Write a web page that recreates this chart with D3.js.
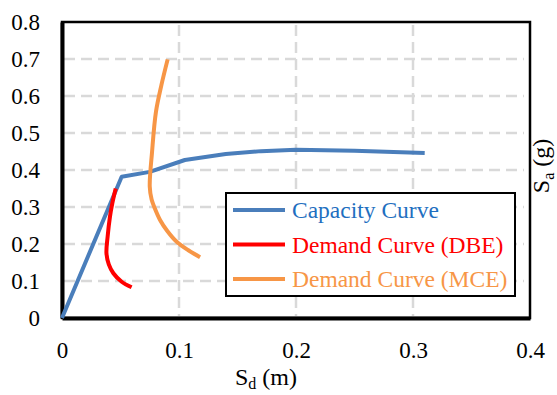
<!DOCTYPE html>
<html>
<head>
<meta charset="utf-8">
<script src="https://cdn.jsdelivr.net/npm/d3@7"></script>
<style>
  body { margin: 0; background: #fff; }
  svg text { font-family: "Liberation Serif", "Times New Roman", serif; }
</style>
</head>
<body>
<div id="chart"></div>
<script>
// data (Sd in m, Sa in g)
var capacitySd = [0, 0.051, 0.075, 0.105, 0.14, 0.17, 0.2, 0.25, 0.31];
var capacitySa = [0, 0.382, 0.395, 0.427, 0.443, 0.451, 0.455, 0.452, 0.446];

var dbeSd = [0.0459, 0.043, 0.041, 0.039, 0.038, 0.040, 0.0439, 0.051, 0.0595];
var dbeSa = [0.350, 0.31, 0.274, 0.22, 0.175, 0.145, 0.121, 0.098, 0.083];

var mceSd = [0.0903, 0.085, 0.0803, 0.077, 0.075, 0.0766, 0.0795, 0.0838, 0.090, 0.098, 0.108, 0.118];
var mceSa = [0.699, 0.63, 0.557, 0.45, 0.355, 0.32, 0.295, 0.265, 0.235, 0.206, 0.183, 0.164];

var xTicks = [0, 0.1, 0.2, 0.3, 0.4];
var yTicks = [0, 0.1, 0.2, 0.3, 0.4, 0.5, 0.6, 0.7, 0.8];

var seriesNames = ["Capacity Curve", "Demand Curve (DBE)", "Demand Curve (MCE)"];
var seriesColors = ["#4a7ebb", "#ff0000", "#f79646"];
var labelColors = ["#1f6fc0", "#ff0000", "#f79646"];

var W = 557, H = 395;
var margin = {top: 22, right: 27, bottom: 77, left: 62};
var width = W - margin.left - margin.right;
var height = H - margin.top - margin.bottom;

var svg = d3.select("#chart").append("svg")
    .attr("width", W)
    .attr("height", H);

var g = svg.append("g")
    .attr("transform", "translate(" + margin.left + "," + margin.top + ")");

var xScale = d3.scaleLinear().domain([0, 0.4]).range([0, width]);
var yScale = d3.scaleLinear().domain([0, 0.8]).range([height, 0]);

// gridlines
g.selectAll("line.hgrid")
  .data(yTicks.filter(function(d) { return d > 0 && d < 0.8; }))
  .enter().append("line")
  .attr("class", "hgrid")
  .attr("x1", 2).attr("x2", width - 6)
  .attr("y1", function(d) { return yScale(d); })
  .attr("y2", function(d) { return yScale(d); })
  .attr("stroke", "#d9d9d9")
  .attr("stroke-width", 2.5)
  .attr("stroke-dasharray", "11,6");

g.selectAll("line.vgrid")
  .data(xTicks.filter(function(d) { return d > 0 && d < 0.4; }))
  .enter().append("line")
  .attr("class", "vgrid")
  .attr("y1", 3).attr("y2", height - 2)
  .attr("x1", function(d) { return xScale(d); })
  .attr("x2", function(d) { return xScale(d); })
  .attr("stroke", "#d9d9d9")
  .attr("stroke-width", 2.5)
  .attr("stroke-dasharray", "11,6");

// frame: top/right thinner, left/bottom heavier
g.append("rect")
  .attr("x", 0).attr("y", 0)
  .attr("width", width).attr("height", height)
  .attr("fill", "none")
  .attr("stroke", "#000")
  .attr("stroke-width", 2.5);

var fmt = function(d) { return d === 0 ? "0" : d3.format(".1f")(d); };

// axes (tick labels only)
var xAxis = g.append("g")
  .attr("transform", "translate(0," + height + ")")
  .call(d3.axisBottom(xScale).tickValues(xTicks).tickSize(0).tickPadding(24).tickFormat(fmt))
  .attr("font-family", null)
  .attr("font-size", 23);
xAxis.select(".domain").attr("stroke", "#000").attr("stroke-width", 4);
xAxis.selectAll("text").attr("fill", "#000");

var yAxis = g.append("g")
  .call(d3.axisLeft(yScale).tickValues(yTicks).tickSize(0).tickPadding(22).tickFormat(fmt))
  .attr("font-family", null)
  .attr("font-size", 23);
yAxis.select(".domain").attr("stroke", "#000").attr("stroke-width", 4);
yAxis.selectAll("text").attr("fill", "#000");

// curves
var seriesData = [
  d3.zip(capacitySd, capacitySa),
  d3.zip(dbeSd, dbeSa),
  d3.zip(mceSd, mceSa)
];

var line = d3.line()
  .x(function(d) { return xScale(d[0]); })
  .y(function(d) { return yScale(d[1]); });

var smooth = d3.line()
  .curve(d3.curveCatmullRom)
  .x(function(d) { return xScale(d[0]); })
  .y(function(d) { return yScale(d[1]); });

seriesData.forEach(function(s, i) {
  g.append("path")
    .datum(s)
    .attr("d", i === 0 ? line : smooth)
    .attr("fill", "none")
    .attr("stroke", seriesColors[i])
    .attr("stroke-width", 4)
    .attr("stroke-linejoin", "round");
});

// legend
var legend = svg.append("g").attr("transform", "translate(226,193)");
legend.append("rect")
  .attr("width", 289).attr("height", 103)
  .attr("fill", "#fff")
  .attr("stroke", "#000")
  .attr("stroke-width", 2);

seriesNames.forEach(function(name, i) {
  var yy = 17 + i * 34.5;
  legend.append("line")
    .attr("x1", 7).attr("x2", 59)
    .attr("y1", yy).attr("y2", yy)
    .attr("stroke", seriesColors[i])
    .attr("stroke-width", 4);
  legend.append("text")
    .attr("x", 66).attr("y", yy)
    .attr("dy", "0.35em")
    .style("font-size", "23.5px")
    .attr("fill", labelColors[i])
    .text(name);
});

// axis titles
var xt = svg.append("text")
  .attr("x", 266)
  .attr("y", 385)
  .attr("text-anchor", "middle")
  .style("font-size", "24px")
  .attr("fill", "#000");
xt.append("tspan").text("S");
xt.append("tspan").attr("dy", 4).style("font-size", "16px").text("d");
xt.append("tspan").attr("dy", -4).text(" (m)");

var yt = svg.append("text")
  .attr("transform", "translate(549,166) rotate(-90)")
  .attr("text-anchor", "middle")
  .style("font-size", "24px")
  .attr("fill", "#000");
yt.append("tspan").text("S");
yt.append("tspan").attr("dy", 5).style("font-size", "16px").text("a");
yt.append("tspan").attr("dy", -5).text(" (g)");
</script>
</body>
</html>
